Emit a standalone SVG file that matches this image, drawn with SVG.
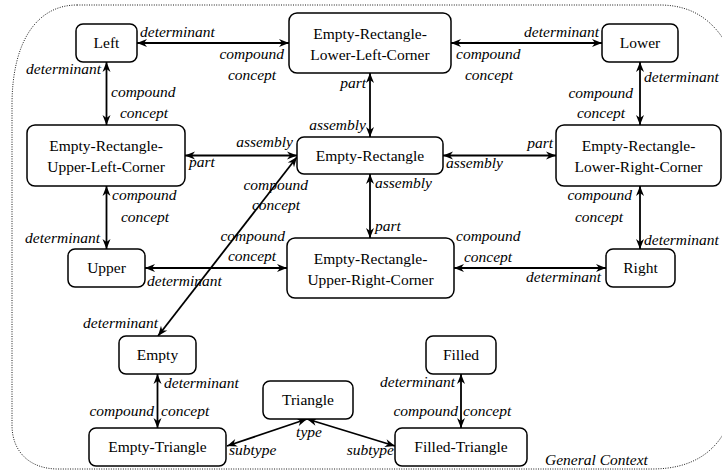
<svg xmlns="http://www.w3.org/2000/svg" width="722" height="472" viewBox="0 0 722 472">
<style>
text{font-family:"Liberation Serif","Times New Roman",serif;font-size:15.5px;fill:#000}
.node rect{fill:#fff;stroke:#000;stroke-width:1.5}
.node text{text-anchor:middle}
.edge{fill:none;stroke:#000;stroke-width:1.8;marker-start:url(#ah);marker-end:url(#ah)}
.lbl{font-style:italic}
.e{text-anchor:end}
.m{text-anchor:middle}
</style>
<defs>
<marker id="ah" viewBox="-11 -5 12 10" refX="0" refY="0" markerWidth="12" markerHeight="10" orient="auto-start-reverse" markerUnits="userSpaceOnUse">
<path d="M0,0 L-10,-4 L-7,0 L-10,4 Z" fill="#000"/>
</marker>
</defs>
<path id="context" d="M77,5 H662 C695,6 715,22 730,50 V420 C718,452 692,469 652,469 H58 C30,469 12,452 12,425 V105 C12,40 38,5 77,5 Z" fill="none" stroke="#000" stroke-width="0.9" stroke-dasharray="1 1.4"/>
<g id="connectors">
<path class="edge" d="M137,43 H289"/>
<path class="edge" d="M451,43 H602"/>
<path class="edge" d="M106.5,62 V125"/>
<path class="edge" d="M370,73 V137"/>
<path class="edge" d="M640,62 V125"/>
<path class="edge" d="M185,155.5 H297"/>
<path class="edge" d="M443,155.5 H556"/>
<path class="edge" d="M106.5,186 V249"/>
<path class="edge" d="M370,174 V238"/>
<path class="edge" d="M640,186 V249"/>
<path class="edge" d="M145,268 H287"/>
<path class="edge" d="M454,268 H606"/>
<path class="edge" d="M297,157 L158,336"/>
<path class="edge" d="M157.5,374 V428"/>
<path class="edge" d="M307,419 L227,446"/>
<path class="edge" d="M307,419 L395,446"/>
<path class="edge" d="M461,374 V428"/>
</g>
<g id="labels">
<text class="lbl" x="140" y="37">determinant</text>
<text class="lbl e" x="284" y="59">compound</text>
<text class="lbl m" x="252" y="80">concept</text>
<text class="lbl e" x="599" y="37">determinant</text>
<text class="lbl" x="456" y="59">compound</text>
<text class="lbl m" x="489" y="80">concept</text>
<text class="lbl e" x="101" y="74">determinant</text>
<text class="lbl" x="111" y="97">compound</text>
<text class="lbl m" x="144" y="118">concept</text>
<text class="lbl e" x="366" y="88">part</text>
<text class="lbl e" x="366" y="130">assembly</text>
<text class="lbl" x="644" y="82">determinant</text>
<text class="lbl e" x="633" y="98">compound</text>
<text class="lbl m" x="601" y="118">concept</text>
<text class="lbl e" x="293" y="147">assembly</text>
<text class="lbl" x="189" y="167">part</text>
<text class="lbl e" x="553" y="148">part</text>
<text class="lbl" x="446" y="168">assembly</text>
<text class="lbl" x="375" y="188">assembly</text>
<text class="lbl" x="375" y="231">part</text>
<text class="lbl e" x="632" y="200">compound</text>
<text class="lbl m" x="599" y="222">concept</text>
<text class="lbl" x="644" y="245">determinant</text>
<text class="lbl" x="112" y="200">compound</text>
<text class="lbl m" x="145" y="222">concept</text>
<text class="lbl e" x="100" y="243">determinant</text>
<text class="lbl e" x="285" y="241">compound</text>
<text class="lbl m" x="252" y="261">concept</text>
<text class="lbl" x="147" y="286">determinant</text>
<text class="lbl" x="456" y="241">compound</text>
<text class="lbl m" x="488" y="262">concept</text>
<text class="lbl e" x="601" y="282">determinant</text>
<text class="lbl e" x="308" y="190">compound</text>
<text class="lbl m" x="276" y="210">concept</text>
<text class="lbl e" x="158" y="328">determinant</text>
<text class="lbl" x="164" y="388">determinant</text>
<text class="lbl e" x="154" y="416">compound</text>
<text class="lbl" x="161" y="416">concept</text>
<text class="lbl m" x="309" y="437">type</text>
<text class="lbl" x="229" y="455">subtype</text>
<text class="lbl e" x="394" y="455">subtype</text>
<text class="lbl e" x="455" y="387">determinant</text>
<text class="lbl e" x="458" y="416">compound</text>
<text class="lbl" x="463" y="416">concept</text>
<text class="lbl" x="545" y="465">General Context</text>
</g>
<g id="n_left" class="node"><rect x="76" y="24" width="61" height="38" rx="7"/><text x="106.5" y="48">Left</text></g>
<g id="n_erllc" class="node"><rect x="289" y="13" width="162" height="60" rx="8"/><text x="370" y="39">Empty-Rectangle-</text><text x="370" y="60">Lower-Left-Corner</text></g>
<g id="n_lower" class="node"><rect x="602" y="24" width="76" height="38" rx="7"/><text x="640" y="48">Lower</text></g>
<g id="n_erulc" class="node"><rect x="27" y="125" width="158" height="61" rx="8"/><text x="106" y="151">Empty-Rectangle-</text><text x="106" y="172">Upper-Left-Corner</text></g>
<g id="n_er" class="node"><rect x="297" y="137" width="146" height="37" rx="7"/><text x="370" y="160.5">Empty-Rectangle</text></g>
<g id="n_erlrc" class="node"><rect x="556" y="125" width="165" height="61" rx="8"/><text x="638.5" y="151">Empty-Rectangle-</text><text x="638.5" y="172">Lower-Right-Corner</text></g>
<g id="n_upper" class="node"><rect x="68" y="249" width="77" height="38" rx="7"/><text x="106.5" y="273">Upper</text></g>
<g id="n_erurc" class="node"><rect x="287" y="238" width="167" height="60" rx="8"/><text x="370.5" y="263.5">Empty-Rectangle-</text><text x="370.5" y="284.5">Upper-Right-Corner</text></g>
<g id="n_right" class="node"><rect x="606" y="249" width="69" height="38" rx="7"/><text x="640.5" y="273">Right</text></g>
<g id="n_empty" class="node"><rect x="119" y="336" width="77" height="38" rx="7"/><text x="157.5" y="360">Empty</text></g>
<g id="n_triangle" class="node"><rect x="263" y="381" width="90" height="38" rx="7"/><text x="308" y="405">Triangle</text></g>
<g id="n_etri" class="node"><rect x="89" y="428" width="137" height="38" rx="7"/><text x="157.5" y="452">Empty-Triangle</text></g>
<g id="n_filled" class="node"><rect x="426" y="336" width="70" height="38" rx="7"/><text x="461" y="360">Filled</text></g>
<g id="n_ftri" class="node"><rect x="395" y="428" width="132" height="38" rx="7"/><text x="461" y="452">Filled-Triangle</text></g>
</svg>
